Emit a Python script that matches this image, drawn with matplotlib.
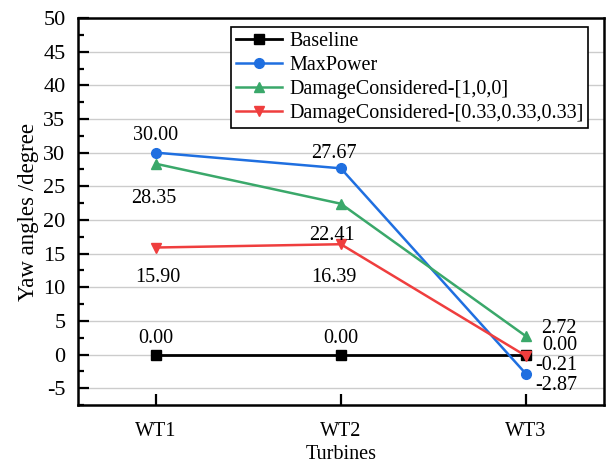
import numpy as np
import matplotlib
matplotlib.use("Agg")
import matplotlib.pyplot as plt
from matplotlib.ticker import MultipleLocator

plt.rcParams['font.family'] = ['Liberation Serif', 'DejaVu Serif']
plt.rcParams['axes.unicode_minus'] = False

# Data
turbines = ["WT1", "WT2", "WT3"]
baseline = [0.00, 0.00, 0.00]
max_power = [30.00, 27.67, -2.87]
damage_100 = [28.35, 22.41, 2.72]
damage_033 = [15.90, 16.39, -0.21]

series = [
    ("Baseline", baseline, "black", "s", 2.0),
    ("MaxPower", max_power, "#1f6fe0", "o", 1.8),
    ("DamageConsidered-[1,0,0]", damage_100, "#3aa86a", "^", 1.8),
    ("DamageConsidered-[0.33,0.33,0.33]", damage_033, "#ef3e3e", "v", 1.8),
]

# label offsets in pixels (dx, dy) for each series / turbine
label_offsets = [
    [(0, 16), (0, 16), (51, 9)],
    [(0, 17), (-7, 15), (51, -12)],
    [(-2, -35), (-9, -32), (51, 8)],
    [(2, -30), (-7, -33), (51, -10)],
]

fig = plt.figure(figsize=(6.16, 4.63), dpi=100)
ax = fig.add_axes([0.1266, 0.1253, 0.8534, 0.8357])

x = np.arange(len(turbines))
for (name, vals, color, marker, lw), offs in zip(series, label_offsets):
    ax.plot(x, vals, color=color, marker=marker, markersize=7, lw=lw, label=name, zorder=3)
    for xi, v, (dx, dy) in zip(x, vals, offs):
        ha = "right" if xi == 2 else "center"
        ax.annotate(f"{v:.2f}", (xi, v), xytext=(dx, dy), textcoords="offset pixels",
                    ha=ha, va="center", fontsize=14.5, zorder=4)

ax.set_xlim(-0.42, 2.42)
ax.set_ylim(-7.5, 50)
ax.set_xticks(x)
ax.set_xticklabels(turbines)
ax.yaxis.set_major_locator(MultipleLocator(5))
ax.yaxis.set_minor_locator(MultipleLocator(2.5))
ax.grid(axis="y", which="major", color="#cccccc", lw=1.0, zorder=0)
ax.tick_params(axis="both", which="major", direction="in", length=8, width=1.6)
ax.tick_params(axis="y", which="major", labelsize=16, pad=9)
ax.tick_params(axis="x", which="major", labelsize=14.5, pad=12)
ax.tick_params(axis="y", which="minor", direction="in", length=4, width=1.6)
ax.tick_params(axis="x", which="minor", bottom=False)
for s in ax.spines.values():
    s.set_linewidth(1.8)

ax.set_xlabel("Turbines", fontsize=14.5, labelpad=3)
ax.set_ylabel("Yaw angles /degree", fontsize=16.5, labelpad=3)

leg = ax.legend(loc="upper right", bbox_to_anchor=(0.97, 0.976), fontsize=14.5, frameon=True,
                fancybox=False, edgecolor="black", framealpha=1, handlelength=2.3,
                labelspacing=0.25, borderpad=0.22, handletextpad=0.35, borderaxespad=0)
leg.get_frame().set_linewidth(1.2)

fig.savefig("out.png", dpi=100)
